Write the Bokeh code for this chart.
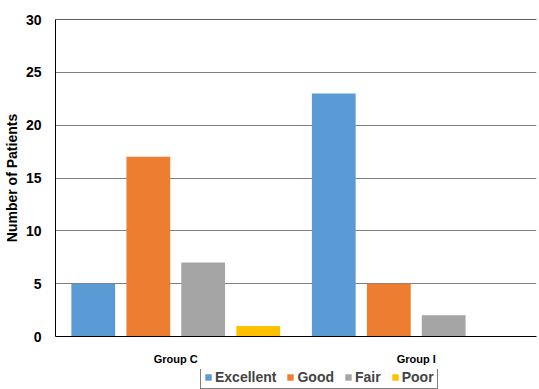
from bokeh.plotting import figure
from bokeh.models import ColumnDataSource, Legend, LegendItem, FactorRange, CategoricalAxis
from bokeh.layouts import column
from bokeh.transform import dodge
from bokeh.embed import file_html
from bokeh.resources import INLINE

groups = ["Group C", "Group I"]
ratings = ["Excellent", "Good", "Fair", "Poor"]
excellent = [5, 23]
good = [17, 5]
fair = [7, 2]
poor = [1, 0]
colors = ["#5B9BD5", "#ED7D31", "#A5A5A5", "#FFC000"]
y_ticks = [0, 5, 10, 15, 20, 25, 30]

src = ColumnDataSource(data=dict(group=groups, Excellent=excellent, Good=good, Fair=fair, Poor=poor))
font = "Liberation Sans"

p = figure(width=539, height=369, x_range=FactorRange(*groups), y_range=(0, 30),
           output_backend="svg", toolbar_location=None,
           min_border_left=55, min_border_right=3, min_border_top=19, min_border_bottom=33)
p.outline_line_color = None

offsets = [-0.343, -0.114, 0.114, 0.343]
for r, c, o in zip(ratings, colors, offsets):
    p.vbar(x=dodge("group", o, range=p.x_range), top=r, width=0.182, source=src,
           fill_color=c, line_color=None)

p.yaxis.ticker = y_ticks
p.yaxis.major_tick_line_color = None
p.yaxis.minor_tick_line_color = None
p.yaxis.axis_line_color = "#000000"
p.yaxis.major_label_text_font = font
p.yaxis.major_label_text_font_style = "bold"
p.yaxis.major_label_text_font_size = "14px"
p.yaxis.major_label_text_color = "#000000"
p.yaxis.major_label_standoff = 8
p.yaxis.axis_label = "Number of Patients"
p.yaxis.axis_label_text_font = font
p.yaxis.axis_label_text_font_style = "bold"
p.yaxis.axis_label_text_font_size = "14px"
p.yaxis.axis_label_text_color = "#000000"
p.yaxis.axis_label_standoff = 3

p.xaxis.major_tick_line_color = None
p.xaxis.axis_line_color = "#000000"
p.xaxis.major_label_text_font = font
p.xaxis.major_label_text_font_style = "bold"
p.xaxis.major_label_text_font_size = "11px"
p.xaxis.major_label_text_color = "#000000"
p.xaxis.major_label_standoff = 10

top_axis = CategoricalAxis(major_tick_line_color=None, minor_tick_line_color=None,
                           axis_line_color="#5F5F5F", major_label_text_font_size="0px",
                           major_label_standoff=0)
p.add_layout(top_axis, "above")

p.xgrid.grid_line_color = None
p.ygrid.grid_line_color = "#7F7F7F"
p.ygrid.grid_line_width = 1

# legend strip: same bars drawn out of view, legend shown in its frame
lf = figure(width=539, height=20, x_range=FactorRange(*groups), y_range=(100, 101),
            output_backend="svg", toolbar_location=None,
            x_axis_location=None, y_axis_location=None,
            min_border_left=0, min_border_right=0, min_border_top=0, min_border_bottom=0)
lf.outline_line_color = None
lf.grid.grid_line_color = None
items = []
for r, c, o in zip(ratings, colors, offsets):
    g = lf.vbar(x=dodge("group", o, range=lf.x_range), top=r, width=0.182, source=src,
                fill_color=c, line_color=None)
    items.append(LegendItem(label=r, renderers=[g]))

legend = Legend(items=items, orientation="horizontal", location=(145, 0),
                label_text_font=font, label_text_font_style="bold", label_text_font_size="14px",
                glyph_width=8, glyph_height=8, label_standoff=3, spacing=10,
                border_line_color="#000000", border_line_width=1,
                padding=3, margin=0, label_height=14)
lf.add_layout(legend, "center")

layout = column(p, lf, spacing=0)
open("out.html", "w").write(file_html(layout, INLINE))
